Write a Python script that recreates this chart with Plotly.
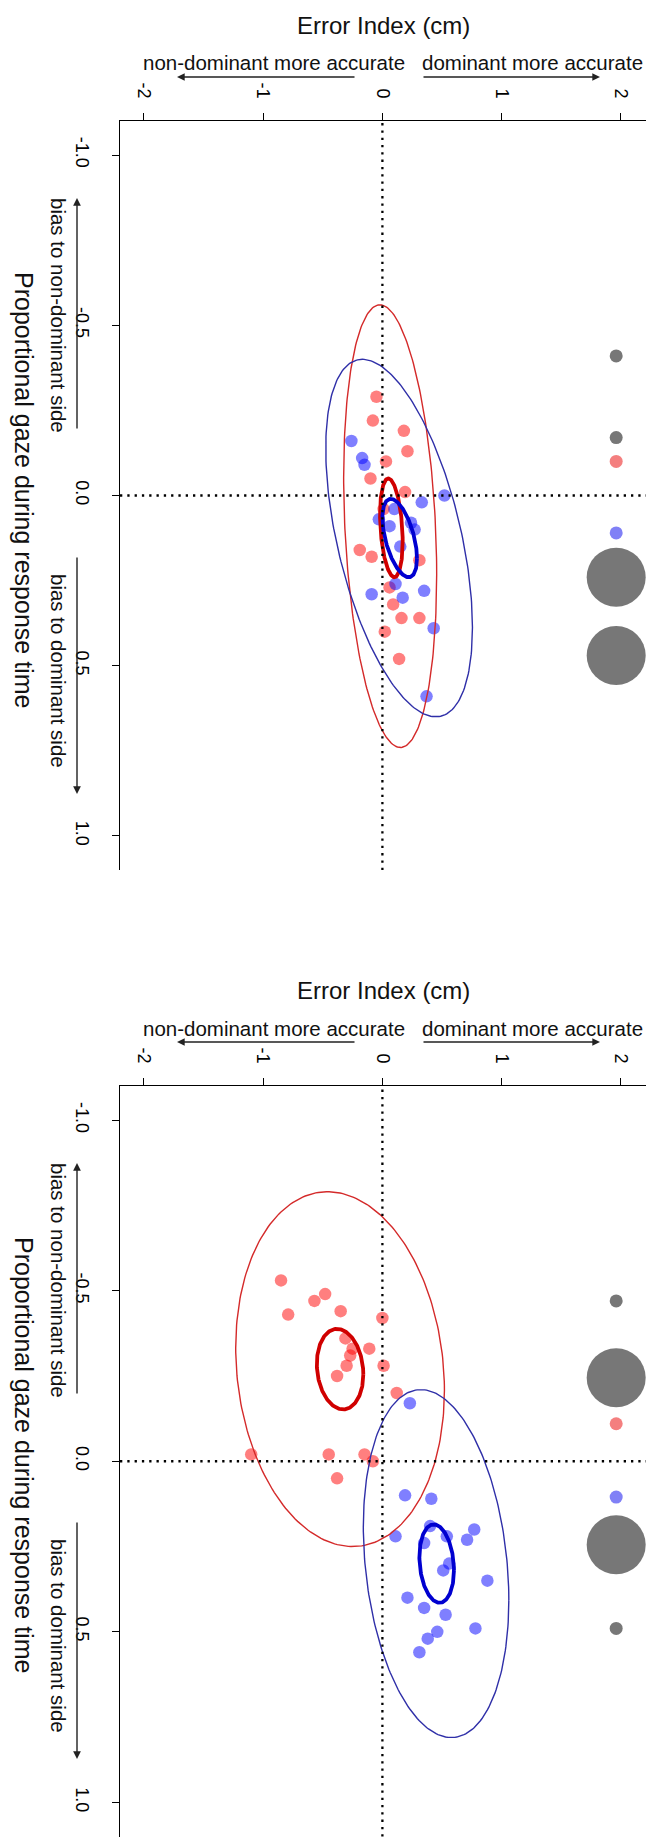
import numpy as np
import plotly.graph_objects as go

W, H = 653, 1838

# ---------------- data ----------------
x_ticks = [-2, -1, 0, 1, 2]
x_ticktext = ["-2", "-1", "0", "1", "2"]
y_ticks = [-1.0, -0.5, 0.0, 0.5, 1.0]
y_ticktext = ["-1.0", "-0.5", "0.0", "0.5", "1.0"]

# Panel 1 (top)
p1_red_err = [-0.05, -0.08, 0.18, 0.21, 0.03, -0.10, 0.19, 0.01, -0.19, -0.09, 0.31, 0.06, 0.09, 0.16, 0.31, 0.02, 0.14]
p1_red_gaze = [-0.29, -0.22, -0.19, -0.13, -0.10, -0.05, -0.01, 0.04, 0.16, 0.18, 0.19, 0.27, 0.32, 0.36, 0.36, 0.40, 0.48]
p1_blue_err = [-0.26, -0.17, -0.15, 0.52, 0.33, 0.10, 0.06, -0.03, 0.24, 0.27, 0.15, 0.11, 0.35, -0.09, 0.17, 0.43, 0.37]
p1_blue_gaze = [-0.16, -0.11, -0.09, 0.00, 0.02, 0.04, 0.09, 0.07, 0.08, 0.10, 0.15, 0.26, 0.28, 0.29, 0.30, 0.39, 0.59]

# Panel 2 (bottom)
p2_red_err = [-0.85, -0.48, -0.57, -0.79, -0.35, 0.00, -0.31, -0.25, -0.11, -0.27, -0.30, 0.01, -0.38, 0.12, -1.10, -0.45, -0.15, -0.08, -0.38]
p2_red_gaze = [-0.53, -0.49, -0.47, -0.43, -0.44, -0.42, -0.36, -0.33, -0.33, -0.31, -0.28, -0.28, -0.25, -0.20, -0.02, -0.02, -0.02, 0.00, 0.05]
p2_blue_err = [0.23, 0.19, 0.41, 0.40, 0.11, 0.54, 0.77, 0.71, 0.35, 0.51, 0.56, 0.88, 0.21, 0.35, 0.53, 0.78, 0.46, 0.38, 0.31]
p2_blue_gaze = [-0.17, 0.10, 0.11, 0.19, 0.22, 0.22, 0.20, 0.23, 0.24, 0.32, 0.30, 0.35, 0.40, 0.43, 0.45, 0.49, 0.50, 0.52, 0.56]

# Ellipses: order = red large, red small, blue large, blue small
ell_group = ["red", "red", "blue", "blue"]
ell_kind = ["large", "small", "large", "small"]
p1_ell_cx = [0.065, 0.075, 0.14, 0.145]
p1_ell_cy = [0.09, 0.095, 0.125, 0.125]
p1_ell_sx = [0.39, 0.095, 0.615, 0.145]
p1_ell_sy = [0.65, 0.145, 0.525, 0.115]
p1_ell_r = [0.22, 0.27, 0.50, 0.52]

p2_ell_cx = [-0.355, -0.355, 0.45, 0.455]
p2_ell_cy = [-0.27, -0.27, 0.30, 0.30]
p2_ell_sx = [0.875, 0.195, 0.61, 0.145]
p2_ell_sy = [0.52, 0.118, 0.51, 0.115]
p2_ell_r = [0.12, 0.13, 0.21, 0.17]

# Side column of markers (at error index ~1.96)
side_err = 1.96
p1_side_gaze = [-0.41, -0.17, -0.10, 0.11, 0.24, 0.47]
p1_side_kind = ["gray_s", "gray_s", "red", "blue", "gray_l", "gray_l"]
p2_side_gaze = [-0.47, -0.245, -0.11, 0.105, 0.245, 0.49]
p2_side_kind = ["gray_s", "gray_l", "red", "blue", "gray_l", "gray_s"]

# ---------------- styles ----------------
FONT = "Liberation Sans"
PT_COL = {"red": "rgba(255,0,0,0.5)", "blue": "rgba(0,0,255,0.5)"}
ELL_COL = {("red", "large"): "#d42a2a", ("red", "small"): "#d00000",
           ("blue", "large"): "#2f2fa8", ("blue", "small"): "#0000d0"}
ELL_W = {"large": 1.4, "small": 3.8}
SIDE_STYLE = {"gray_s": ("#777777", 13), "gray_l": ("#777777", 59),
              "red": ("#f47f7f", 13), "blue": ("#8080f6", 13)}

fig = go.Figure()

x_dom = [120 / W, 646 / W]
panels = [
    dict(xa="x", ya="y", dom=[1 - 870 / H, 1 - 121 / H], dy=0,
         red=(p1_red_err, p1_red_gaze), blue=(p1_blue_err, p1_blue_gaze),
         ell=(p1_ell_cx, p1_ell_cy, p1_ell_sx, p1_ell_sy, p1_ell_r),
         side=(p1_side_gaze, p1_side_kind)),
    dict(xa="x2", ya="y2", dom=[1 - 1836.5 / H, 1 - 1086 / H], dy=965,
         red=(p2_red_err, p2_red_gaze), blue=(p2_blue_err, p2_blue_gaze),
         ell=(p2_ell_cx, p2_ell_cy, p2_ell_sx, p2_ell_sy, p2_ell_r),
         side=(p2_side_gaze, p2_side_kind)),
]

t = np.linspace(0, 2 * np.pi, 241)

for i, P in enumerate(panels):
    xa, ya = P["xa"], P["ya"]
    # side column
    sg, sk = P["side"]
    fig.add_trace(go.Scatter(
        x=[side_err] * len(sg), y=sg, mode="markers", xaxis=xa, yaxis=ya,
        marker=dict(color=[SIDE_STYLE[k][0] for k in sk], size=[SIDE_STYLE[k][1] for k in sk],
                    opacity=1, line=dict(width=0)),
        showlegend=False, hoverinfo="skip"))
    # points
    for g in ["red", "blue"]:
        ex, gy = P[g]
        fig.add_trace(go.Scatter(
            x=ex, y=gy, mode="markers", xaxis=xa, yaxis=ya,
            marker=dict(color=PT_COL[g], size=12.5, opacity=1, line=dict(width=0)),
            showlegend=False))
    # ellipses
    cx, cy, sx, sy, rr = P["ell"]
    for k in range(len(cx)):
        ex = cx[k] + sx[k] * np.cos(t)
        ey = cy[k] + sy[k] * (rr[k] * np.cos(t) + np.sqrt(1 - rr[k] ** 2) * np.sin(t))
        fig.add_trace(go.Scatter(
            x=ex, y=ey, mode="lines", xaxis=xa, yaxis=ya,
            line=dict(color=ELL_COL[(ell_group[k], ell_kind[k])], width=ELL_W[ell_kind[k]]),
            showlegend=False, hoverinfo="skip"))

    sfx = "" if i == 0 else "2"
    axis_common = dict(showgrid=False, zeroline=False, showline=True, linecolor="black", linewidth=1.4,
                       ticks="outside", ticklen=7, tickwidth=1.3, tickcolor="black",
                       tickfont=dict(family=FONT, size=18, color="black"), tickangle=90,
                       automargin=False, fixedrange=True)
    fig.update_layout(**{
        "xaxis" + sfx: dict(domain=x_dom, range=[-2.2, 2.21], side="top", anchor=ya,
                            tickvals=x_ticks, ticktext=x_ticktext, ticklabelstandoff=8, **axis_common),
        "yaxis" + sfx: dict(domain=P["dom"], range=[1.1, -1.1], anchor=xa,
                            tickvals=y_ticks, ticktext=y_ticktext, ticklabelstandoff=14, **axis_common),
    })
    # dotted zero lines
    fig.add_shape(type="line", xref=xa + " domain", yref=ya, x0=0, x1=1, y0=0, y1=0,
                  line=dict(color="black", width=2.3, dash="2.3px,5px"), layer="above")
    fig.add_shape(type="line", xref=xa, yref=ya + " domain", x0=0, x1=0, y0=0, y1=1,
                  line=dict(color="black", width=2.3, dash="2.3px,5px"), layer="above")

    dy = P["dy"]

    def txt(x, y, s, size, angle=0):
        fig.add_annotation(x=x / W, y=1 - (y + dy) / H, xref="paper", yref="paper", text=s,
                           showarrow=False, xanchor="center", yanchor="middle", textangle=angle,
                           font=dict(family=FONT, size=size, color="#111"))

    def arrow(xh, yh, xt, yt):
        fig.add_annotation(x=xh / W, y=1 - (yh + dy) / H, xref="paper", yref="paper",
                           ax=xt - xh, ay=yt - yh, axref="pixel", ayref="pixel", text="",
                           showarrow=True, arrowhead=2, arrowsize=1.1, arrowwidth=1.4,
                           arrowcolor="#222")

    txt(383, 25, "Error Index (cm)", 24)
    txt(274, 63, "non-dominant more accurate", 20.5)
    txt(532, 63, "dominant more accurate", 20.5)
    arrow(177, 77, 356, 77)
    arrow(600, 77, 422, 77)
    txt(24, 490, "Proportional gaze during response time", 25, 90)
    txt(59, 316, "bias to non-dominant side", 20.5, 90)
    txt(59, 671, "bias to dominant side", 20.5, 90)
    arrow(77, 198, 77, 430)
    arrow(77, 794, 77, 556)

fig.update_layout(width=W, height=H, margin=dict(l=0, r=0, t=0, b=0),
                  plot_bgcolor="white", paper_bgcolor="white", showlegend=False)

fig.write_html("out.html")
